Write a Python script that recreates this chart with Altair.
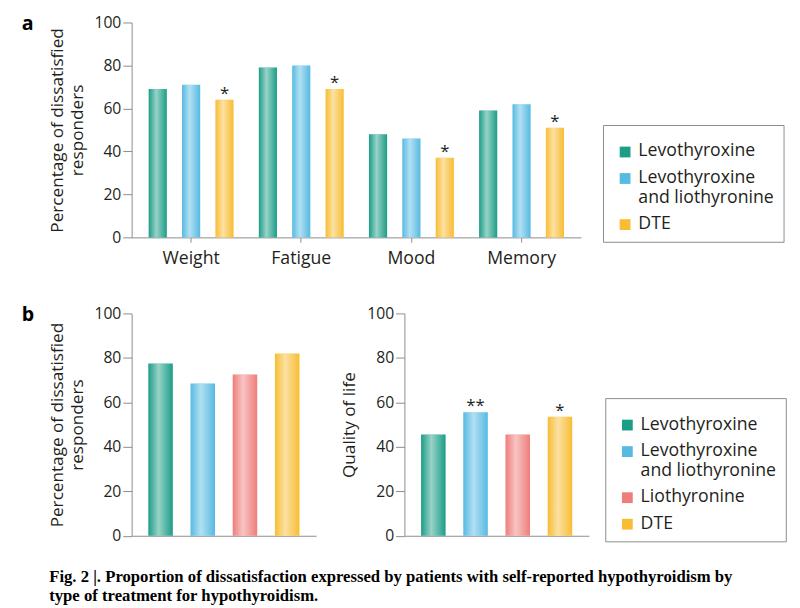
import altair as alt
import pandas as pd

# ---------------- data ----------------
symptoms = ["Weight", "Fatigue", "Mood", "Memory"]
treatments_a = ["Levothyroxine", "Levothyroxine and liothyronine", "DTE"]
levothyroxine_a = [69, 79, 48, 59]
combination_a = [71, 80, 46, 62]
dte_a = [64, 69, 37, 51]
dte_sig_a = ["*", "*", "*", "*"]

treatments_b = ["Levothyroxine", "Levothyroxine and liothyronine", "Liothyronine", "DTE"]
dissatisfied_b = [77.5, 68.5, 72.5, 82]
quality_of_life_b = [45.5, 55.5, 45.5, 53.5]
qol_sig_b = ["", "**", "", "*"]

y_ticks = [0, 20, 40, 60, 80, 100]
palette = {
    "Levothyroxine": "#1c9d86",
    "Levothyroxine and liothyronine": "#56bae2",
    "Liothyronine": "#ef7d7a",
    "DTE": "#f8bd33",
}
caption = [
    "Fig. 2 |. Proportion of dissatisfaction expressed by patients with self-reported hypothyroidism by",
    "type of treatment for hypothyroidism.",
]

# ---------------- tables ----------------
rows_a = []
series_a = [levothyroxine_a, combination_a, dte_a]
sigs_a = [[""] * 4, [""] * 4, dte_sig_a]
for i, s in enumerate(symptoms):
    for t, vals, sg in zip(treatments_a, series_a, sigs_a):
        rows_a.append({"symptom": s, "treatment": t, "value": vals[i], "sig": sg[i]})
df_a = pd.DataFrame(rows_a)
df_b1 = pd.DataFrame({"treatment": treatments_b, "value": dissatisfied_b})
df_b2 = pd.DataFrame({"treatment": treatments_b, "value": quality_of_life_b, "sig": qol_sig_b})

# ---------------- styles ----------------
AXIS_GRAY = "#8c8c8c"
TEXT = "#231f20"
FONT = "Open Sans"

shine = alt.Gradient(
    gradient="linear",
    stops=[
        alt.GradientStop(color="rgba(255,255,255,0)", offset=0),
        alt.GradientStop(color="rgba(255,255,255,0.55)", offset=0.42),
        alt.GradientStop(color="rgba(255,255,255,0)", offset=1),
    ],
    x1=0, x2=1, y1=0, y2=0,
)


def y_axis(title):
    return alt.Axis(
        values=y_ticks, title=title, grid=False, domainColor=AXIS_GRAY,
        tickColor=AXIS_GRAY, tickSize=9, labelFontSize=16, labelPadding=2,
        labelColor=TEXT, titleFontSize=17.5, titleFontWeight="normal",
        titleColor=TEXT, titlePadding=8, titleLineHeight=20,
    )


def legend_spec(lx, ly):
    return alt.Legend(
        title=None, orient="none", legendX=lx, legendY=ly, direction="vertical",
        strokeColor=AXIS_GRAY, padding=9, symbolType="M-1,4H10V15H-1Z",
        symbolSize=4, symbolStrokeWidth=0, symbolOpacity=1,
        labelFontSize=18, labelColor=TEXT, labelBaseline="top",
        labelOffset=9, labelLimit=300, rowPadding=-3, labelFont=FONT,
        labelExpr="split(replace(datum.label, ' and ', '|and '), '|')",
    )


def panel_label(letter):
    return alt.Chart(pd.DataFrame({"panel": [letter]})).mark_text(
        align="left", baseline="alphabetic", fontSize=20, fontWeight="bold",
        font=FONT, color="black",
    ).encode(text="panel:N", x=alt.value(-112), y=alt.value(7.5))


# ---------------- panel a ----------------
base_a = alt.Chart(df_a).encode(
    x=alt.X(
        "symptom:N", sort=symptoms,
        scale=alt.Scale(paddingInner=0, paddingOuter=0.04),
        axis=alt.Axis(title=None, labelAngle=0, tickSize=5, tickColor=AXIS_GRAY,
                      domainColor=AXIS_GRAY, labelFontSize=18, labelColor=TEXT,
                      labelPadding=8),
    ),
    xOffset=alt.XOffset("treatment:N", sort=treatments_a,
                        scale=alt.Scale(paddingInner=0.456, paddingOuter=0.378)),
    y=alt.Y("value:Q", scale=alt.Scale(domain=[0, 100]),
            axis=y_axis(["Percentage of dissatisfied", "responders"])),
)
bars_a = base_a.mark_bar().encode(
    color=alt.Color("treatment:N", sort=treatments_a,
                    scale=alt.Scale(domain=treatments_a,
                                    range=[palette[t] for t in treatments_a]),
                    legend=legend_spec(480.4, 104.5))
)
shine_a = base_a.mark_bar(fill=shine)
stars_a = base_a.transform_filter("datum.sig != ''").mark_text(
    baseline="alphabetic", dy=-1, fontSize=17, color=TEXT, font=FONT
).encode(text="sig:N")
row_a = alt.layer(bars_a, shine_a, stars_a, panel_label("a")).properties(
    width=458, height=219
)

# ---------------- panel b ----------------
x_b = alt.X("treatment:N", sort=treatments_b,
            scale=alt.Scale(paddingInner=0.419, paddingOuter=0.395),
            axis=alt.Axis(title=None, labels=False, ticks=False, domainColor=AXIS_GRAY))
color_scale_b = alt.Scale(domain=treatments_b, range=[palette[t] for t in treatments_b])

base_b1 = alt.Chart(df_b1).encode(
    x=x_b,
    y=alt.Y("value:Q", scale=alt.Scale(domain=[0, 100]),
            axis=y_axis(["Percentage of dissatisfied", "responders"])),
)
left_b = alt.layer(
    base_b1.mark_bar().encode(color=alt.Color("treatment:N", sort=treatments_b,
                                              scale=color_scale_b, legend=None)),
    base_b1.mark_bar(fill=shine),
    panel_label("b"),
).properties(width=188, height=226.6)

base_b2 = alt.Chart(df_b2).encode(
    x=x_b,
    y=alt.Y("value:Q", scale=alt.Scale(domain=[0, 100]), axis=y_axis("Quality of life")),
)
right_b = alt.layer(
    base_b2.mark_bar().encode(color=alt.Color("treatment:N", sort=treatments_b,
                                              scale=color_scale_b,
                                              legend=legend_spec(204.7, 86.3))),
    base_b2.mark_bar(fill=shine),
    base_b2.transform_filter("datum.sig != ''").mark_text(
        baseline="alphabetic", dy=-1, fontSize=17, color=TEXT, font=FONT
    ).encode(text="sig:N"),
).properties(width=188, height=226.6)

row_b = alt.hconcat(left_b, right_b, spacing=25).resolve_scale(
    color="independent").resolve_legend(color="independent")

chart = alt.vconcat(row_a, row_b, spacing=37.5).resolve_scale(
    color="independent").resolve_legend(color="independent").properties(
    title=alt.TitleParams(
        caption, orient="bottom", anchor="start", font="Liberation Serif",
        fontSize=17, fontWeight="bold", color="black", lineHeight=20,
        offset=26, dx=28,
    )
).configure(
    padding={"left": 14, "top": 0, "right": 5, "bottom": 0}, font=FONT
).configure_view(stroke=None)

chart.save("out.html", embed_options={"renderer": "svg", "actions": False})
